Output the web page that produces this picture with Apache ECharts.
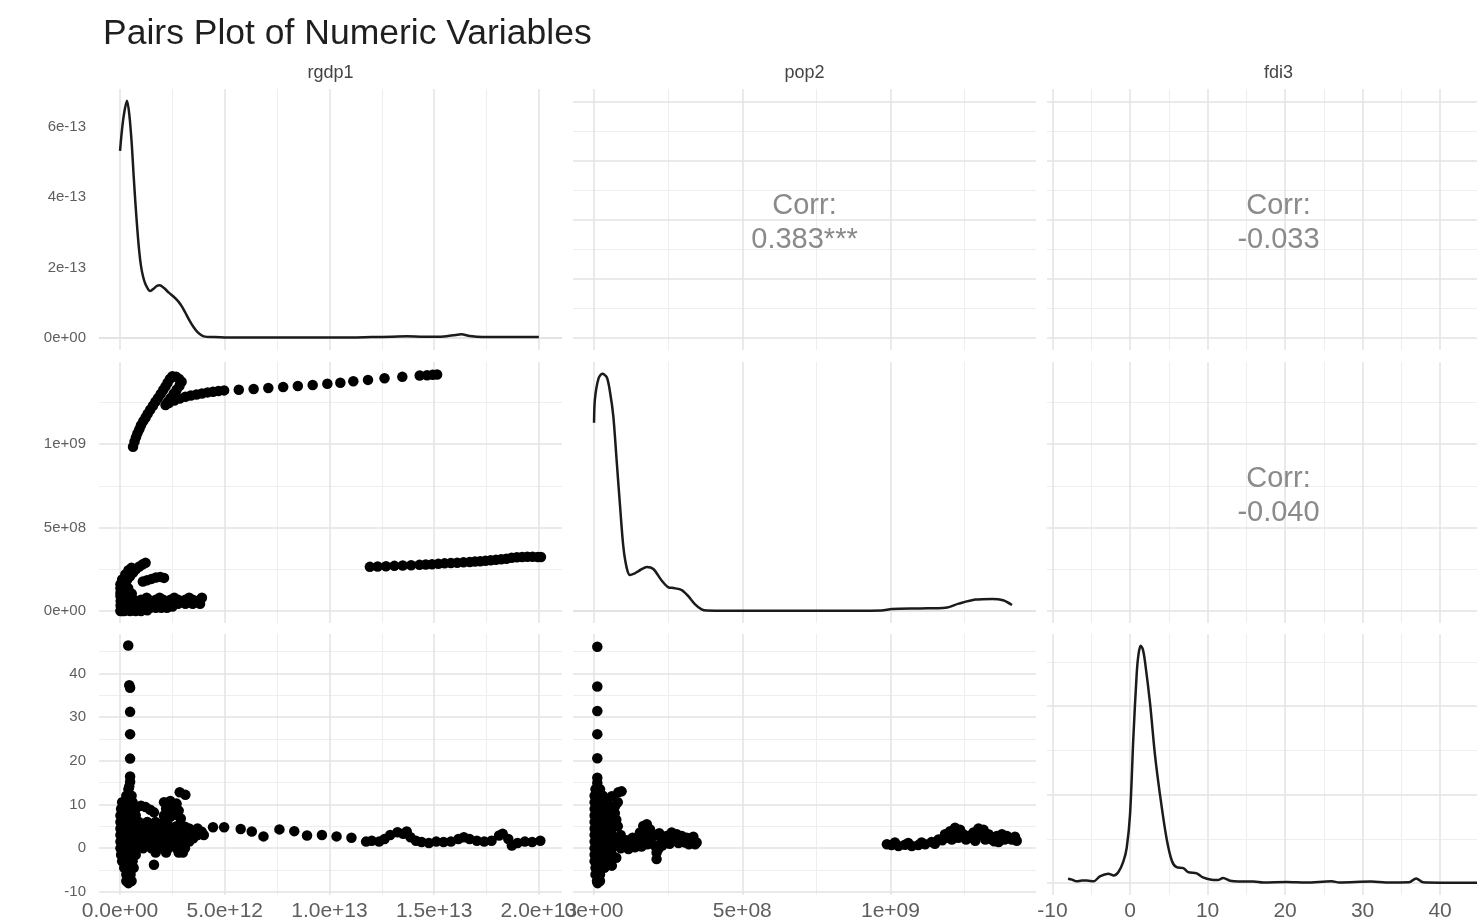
<!DOCTYPE html>
<html><head><meta charset="utf-8">
<script src="https://cdn.jsdelivr.net/npm/echarts@6/dist/echarts.min.js"></script>
<style>html,body{margin:0;padding:0;background:#fff}#c{width:1477px;height:922px}</style>
</head><body><div id="c"></div>
<script>
// ---------------- data ----------------
const titleText = 'Pairs Plot of Numeric Variables';
const variableNames = ['rgdp1', 'pop2', 'fdi3'];
const corrLabels = { '0-1': ['Corr:', '0.383***'], '0-2': ['Corr:', '-0.033'], '1-2': ['Corr:', '-0.040'] };

// tick values and labels
const rgdpTicks = [0, 5e12, 1e13, 1.5e13, 2e13];
const rgdpTickLabels = ['0.0e+00', '5.0e+12', '1.0e+13', '1.5e+13', '2.0e+13'];
const rgdpMinor = [2.5e12, 7.5e12, 1.25e13, 1.75e13];
const popTicks = [0, 5e8, 1e9];
const popTickLabels = ['0e+00', '5e+08', '1e+09'];
const popMinor = [2.5e8, 7.5e8, 1.25e9];
const fdiTicks = [-10, 0, 10, 20, 30, 40];
const fdiTickLabels = ['-10', '0', '10', '20', '30', '40'];
const fdiMinor = [-5, 5, 15, 25, 35, 45];
const rgdpDensTicks = [0, 2e-13, 4e-13, 6e-13];
const rgdpDensTickLabels = ['0e+00', '2e-13', '4e-13', '6e-13'];
const rgdpDensMinor = [1e-13, 3e-13, 5e-13, 7e-13];
const popDensTicks = [0, 1e-9, 2e-9, 3e-9];
const popDensMinor = [0.5e-9, 1.5e-9, 2.5e-9, 3.5e-9];
const fdiDensTicks = [0, 0.1, 0.2];
const fdiDensMinor = [0.05, 0.15, 0.25];

// axis ranges (data range plus 5% expansion)
const rgdpRange = [-1.005e12, 2.1105e13];
const popRange = [-0.071e9, 1.491e9];
const fdiRange = [-10.715, 49.015];
const rgdpDensRange = [-0.3365e-13, 7.0665e-13];
const popDensRange = [-0.1745e-9, 3.6645e-9];
const fdiDensRange = [-0.0134, 0.2814];

// density curves [value, density]
const rgdpDensity = [[0,5.31e-13],[0.15e12,6.2e-13],[0.335e12,6.73e-13],[0.45e12,6.3e-13],[0.56e12,5.5e-13],[0.65e12,4.6e-13],[0.74e12,3.78e-13],[0.83e12,3.05e-13],[0.92e12,2.44e-13],[1.0e12,2.05e-13],[1.09e12,1.77e-13],[1.2e12,1.55e-13],[1.36e12,1.37e-13],[1.44e12,1.34e-13],[1.6e12,1.40e-13],[1.75e12,1.48e-13],[1.89e12,1.50e-13],[2.1e12,1.42e-13],[2.33e12,1.29e-13],[2.55e12,1.18e-13],[2.77e12,1.05e-13],[2.95e12,0.9e-13],[3.12e12,0.72e-13],[3.3e12,0.52e-13],[3.47e12,0.35e-13],[3.7e12,0.17e-13],[4.0e12,0.05e-13],[4.5e12,0.03e-13],[5e12,0.02e-13],[6e12,0.02e-13],[7e12,0.02e-13],[8e12,0.02e-13],[9e12,0.02e-13],[10e12,0.02e-13],[11e12,0.02e-13],[12e12,0.03e-13],[13e12,0.04e-13],[13.7e12,0.05e-13],[14.5e12,0.04e-13],[15.3e12,0.04e-13],[15.9e12,0.08e-13],[16.3e12,0.11e-13],[16.7e12,0.06e-13],[17.3e12,0.03e-13],[18e12,0.03e-13],[19e12,0.03e-13],[20e12,0.03e-13]];
const popDensity = [[0,2.77e-9],[0.03e8,3.12e-9],[0.15e8,3.42e-9],[0.28e8,3.49e-9],[0.43e8,3.44e-9],[0.54e8,3.22e-9],[0.65e8,2.87e-9],[0.76e8,2.23e-9],[0.88e8,1.53e-9],[0.99e8,0.94e-9],[1.1e8,0.64e-9],[1.21e8,0.53e-9],[1.35e8,0.55e-9],[1.5e8,0.59e-9],[1.78e8,0.65e-9],[2.0e8,0.62e-9],[2.28e8,0.45e-9],[2.51e8,0.35e-9],[2.68e8,0.34e-9],[2.96e8,0.31e-9],[3.18e8,0.22e-9],[3.41e8,0.10e-9],[3.63e8,0.025e-9],[3.8e8,0.008e-9],[4.5e8,0.005e-9],[5.5e8,0.005e-9],[6.5e8,0.005e-9],[7.5e8,0.005e-9],[8.5e8,0.006e-9],[9.7e8,0.01e-9],[10.05e8,0.03e-9],[11.0e8,0.04e-9],[11.86e8,0.05e-9],[12.3e8,0.11e-9],[12.87e8,0.17e-9],[13.43e8,0.18e-9],[13.8e8,0.16e-9],[14.1e8,0.09e-9]];
const fdiDensity = [[-8.0,0.005],[-7.5,0.004],[-6.9,0.002],[-6.2,0.003],[-5.6,0.003],[-4.7,0.002],[-3.9,0.0076],[-2.8,0.0106],[-2.1,0.0087],[-1.5,0.0125],[-0.86,0.0246],[-0.43,0.040],[0,0.078],[0.43,0.165],[0.86,0.237],[1.1,0.259],[1.37,0.268],[1.65,0.264],[1.93,0.25],[2.58,0.203],[3.2,0.146],[3.86,0.100],[4.7,0.051],[5.4,0.025],[6.0,0.018],[6.87,0.017],[7.5,0.0125],[8.6,0.011],[9.4,0.0064],[10.5,0.0038],[11.3,0.0035],[12.0,0.0057],[12.9,0.0027],[14,0.0019],[15.9,0.0019],[17.2,0.0008],[20.2,0.0012],[22.7,0.0006],[26.0,0.002],[27.0,0.0008],[31.1,0.0018],[33.0,0.0007],[36.0,0.0009],[36.9,0.0053],[37.8,0.0009],[40,0.0005],[43,0.0005],[46.3,0.0005]];

// scatter panels
const rgdpPopPoints = [
 [0.62e12,9.84e8],[0.69e12,10.14e8],[0.76e12,10.40e8],[0.83e12,10.64e8],[0.92e12,10.88e8],[1.00e12,11.12e8],[1.11e12,11.37e8],[1.22e12,11.59e8],[1.32e12,11.81e8],[1.44e12,12.05e8],[1.57e12,12.29e8],[1.69e12,12.53e8],[1.81e12,12.75e8],[1.94e12,12.99e8],[2.06e12,13.23e8],[2.17e12,13.45e8],[2.27e12,13.67e8],[2.38e12,13.90e8],[2.50e12,14.06e8],[2.68e12,14.02e8],[2.82e12,13.90e8],[2.94e12,13.73e8],[2.84e12,13.49e8],[2.70e12,13.25e8],[2.56e12,13.01e8],[2.41e12,12.75e8],[2.27e12,12.51e8],[2.17e12,12.33e8],
 [2.33e12,12.45e8],[2.59e12,12.61e8],[2.85e12,12.73e8],[3.12e12,12.83e8],[3.38e12,12.91e8],[3.65e12,12.97e8],[3.91e12,13.03e8],[4.18e12,13.09e8],[4.44e12,13.13e8],[4.70e12,13.17e8],[4.97e12,13.21e8],[5.67e12,13.25e8],[6.38e12,13.29e8],[7.08e12,13.35e8],[7.79e12,13.41e8],[8.49e12,13.47e8],[9.20e12,13.53e8],[9.90e12,13.61e8],[10.52e12,13.67e8],[11.14e12,13.76e8],[11.84e12,13.84e8],[12.63e12,13.94e8],[13.48e12,14.02e8],[14.31e12,14.10e8],[14.66e12,14.12e8],[14.93e12,14.14e8],[15.14e12,14.16e8],
 [11.93e12,2.65e8],[12.3e12,2.67e8],[12.7e12,2.69e8],[13.1e12,2.71e8],[13.5e12,2.73e8],[13.9e12,2.75e8],[14.3e12,2.77e8],[14.6e12,2.79e8],[14.9e12,2.81e8],[15.2e12,2.83e8],[15.5e12,2.86e8],[15.8e12,2.88e8],[16.1e12,2.9e8],[16.4e12,2.92e8],[16.7e12,2.94e8],[16.95e12,2.97e8],[17.2e12,2.99e8],[17.45e12,3.01e8],[17.7e12,3.04e8],[17.95e12,3.07e8],[18.2e12,3.1e8],[18.45e12,3.14e8],[18.7e12,3.2e8],[18.95e12,3.23e8],[19.2e12,3.24e8],[19.45e12,3.25e8],[19.7e12,3.25e8],[19.95e12,3.24e8],[20.1e12,3.24e8],
 [0.02e12,1.10e8],[0.09e12,1.37e8],[0.21e12,1.61e8],[0.33e12,1.85e8],[0.48e12,2.09e8],[0.62e12,2.31e8],[0.76e12,2.51e8],[0.92e12,2.67e8],[1.09e12,2.81e8],[1.22e12,2.89e8],
 [0.1e12,1.9e8],[0.25e12,2.2e8],[0.4e12,2.45e8],[0.55e12,2.6e8],
 [1.09e12,1.77e8],[1.29e12,1.85e8],[1.50e12,1.93e8],[1.71e12,2.01e8],[1.92e12,2.05e8],[2.10e12,1.99e8],
 [0.02e12,1.61e8],[0.02e12,1.37e8],[0.02e12,0.90e8],[0.03e12,0.60e8],[0.03e12,0.30e8],[0.04e12,0.05e8],[0.10e12,0.01e8],[0.16e12,1.45e8],[0.39e12,1.37e8],[0.30e12,0.9e8],[0.56e12,1.04e8],[0.04e12,0.40e8],[0.21e12,0.60e8],[0.39e12,0.80e8],[0.2e12,1.15e8],
 [0.02e12,0.01e8],[0.21e12,0.01e8],[0.48e12,0.01e8],[0.74e12,0.01e8],[1.0e12,0.01e8],[1.3e12,0.05e8],
 [0.12e12,0.2e8],[0.39e12,0.2e8],[0.65e12,0.2e8],[0.92e12,0.2e8],[1.18e12,0.2e8],[1.44e12,0.2e8],[1.71e12,0.2e8],[1.97e12,0.2e8],[2.24e12,0.2e8],[2.5e12,0.28e8],
 [0.30e12,0.44e8],[0.65e12,0.44e8],[1.0e12,0.44e8],[1.36e12,0.44e8],[1.71e12,0.44e8],[2.06e12,0.44e8],[2.41e12,0.44e8],[2.77e12,0.44e8],[3.12e12,0.44e8],[3.47e12,0.44e8],[3.82e12,0.44e8],
 [0.65e12,0.68e8],[1.0e12,0.68e8],[1.36e12,0.68e8],[1.71e12,0.68e8],[2.06e12,0.68e8],[2.41e12,0.68e8],[2.77e12,0.68e8],[3.12e12,0.68e8],[3.47e12,0.68e8],[3.82e12,0.68e8],
 [1.27e12,0.8e8],[1.89e12,0.8e8],[2.59e12,0.8e8],[3.3e12,0.8e8],[3.91e12,0.8e8]
];
const rgdpFdiPoints = [
 [0.39e12,46.4],[0.44e12,37.3],[0.48e12,36.7],[0.48e12,31.2],[0.48e12,26.1],[0.48e12,20.5],[0.48e12,16.4],[0.48e12,15.2],[0.44e12,14.1],
 [0.4e12,13.5],[0.3e12,12],[0.55e12,12],[0.1e12,10.5],[0.35e12,10.5],[0.6e12,10.5],
 [0.05e12,9],[0.3e12,9],[0.55e12,9],[0.75e12,9],
 [0.02e12,7.5],[0.25e12,7.5],[0.5e12,7.5],[0.75e12,7.5],
 [0.02e12,6],[0.25e12,6],[0.5e12,6],[0.75e12,6],
 [0.02e12,4.5],[0.25e12,4.5],[0.5e12,4.5],[0.75e12,4.5],
 [0.02e12,3],[0.25e12,3],[0.5e12,3],[0.75e12,3],
 [0.02e12,1.5],[0.25e12,1.5],[0.5e12,1.5],[0.75e12,1.5],
 [0.02e12,0],[0.25e12,0],[0.5e12,0],[0.75e12,0],
 [0.05e12,-1.5],[0.3e12,-1.5],[0.55e12,-1.5],[0.75e12,-1.5],
 [0.1e12,-3],[0.35e12,-3],[0.6e12,-3],
 [0.2e12,-4.5],[0.45e12,-4.5],[0.65e12,-4.5],
 [0.3e12,-6],[0.5e12,-6],[0.3e12,-7.5],[0.55e12,-7.5],[0.4e12,-8],
 [1.0e12,9.7],[1.22e12,9.4],[1.44e12,8.8],[1.62e12,8.2],
 [0.9e12,6],[1.3e12,6],[1.7e12,6],[2.1e12,6],
 [1.1e12,5.25],[1.5e12,5.25],[1.9e12,5.25],[2.3e12,5.25],[2.7e12,5.0],[3.1e12,4.9],
 [0.9e12,4.5],[1.3e12,4.5],[1.7e12,4.5],[2.1e12,4.5],[2.5e12,4.5],[2.9e12,4.5],[3.3e12,4.5],[3.7e12,4.5],
 [1.1e12,3.75],[1.5e12,3.75],[1.9e12,3.75],[2.3e12,3.75],[2.7e12,3.75],[3.1e12,3.75],[3.5e12,3.75],[3.9e12,3.75],
 [0.9e12,3],[1.3e12,3],[1.7e12,3],[2.1e12,3],[2.5e12,3],[2.9e12,3],[3.3e12,3],[3.7e12,3],[4.0e12,3],
 [1.1e12,2.25],[1.5e12,2.25],[1.9e12,2.25],[2.3e12,2.25],[2.7e12,2.25],[3.1e12,2.25],[3.5e12,2.25],
 [0.9e12,1.5],[1.3e12,1.5],[1.7e12,1.5],[2.1e12,1.5],[2.5e12,1.5],[2.9e12,1.5],[3.3e12,1.5],
 [1.1e12,0.75],[1.5e12,0.75],[1.9e12,0.75],[2.3e12,0.75],[2.7e12,0.75],[3.1e12,0.75],
 [1.1e12,0],[1.5e12,0],[1.9e12,0],[2.3e12,0],[2.7e12,0],[3.1e12,0],
 [1.7e12,-1],[2.2e12,-1],[2.8e12,-1],[3.0e12,-1],[1.62e12,-3.8],
 [2.1e12,10.5],[2.4e12,10.8],[2.7e12,10.2],[2.2e12,9.0],[2.5e12,9.2],[2.8e12,8.6],[2.1e12,7.5],[2.4e12,7.2],[2.7e12,7.6],[2.9e12,6.8],
 [2.85e12,12.8],[3.12e12,12.2],
 [4.44e12,4.8],[4.97e12,4.8],[5.76e12,4.4],[6.29e12,3.8],[6.85e12,2.7],[7.61e12,4.3],[8.32e12,3.9],[8.93e12,2.9],[9.64e12,3.0],[10.34e12,2.7],[11.05e12,2.4],
 [11.75e12,1.5],[12.02e12,1.7],[12.37e12,1.5],[12.63e12,2.1],[12.9e12,3.0],[13.25e12,3.65],[13.52e12,3.3],[13.69e12,3.8],[13.87e12,2.5],[14.13e12,1.7],[14.4e12,1.4],[14.75e12,1.2],[15.1e12,1.5],[15.45e12,1.4],[15.8e12,1.5],[16.16e12,2.1],[16.42e12,2.5],[16.69e12,2.1],[17.04e12,1.7],[17.39e12,1.5],[17.74e12,1.7],[18.1e12,2.9],[18.27e12,3.3],[18.54e12,2.1],[18.71e12,0.6],[18.98e12,1.2],[19.33e12,1.5],[19.68e12,1.4],[20.07e12,1.7]
];
const popFdiPoints = [
 [0.11e8,46.1],[0.11e8,37.0],[0.11e8,31.4],[0.11e8,26.1],[0.11e8,20.6],[0.11e8,16.1],[0.11e8,14.9],[0.11e8,13.8],
 [0.05e8,13.5],[0.2e8,13.5],[0.02e8,12],[0.15e8,12],[0.3e8,12],
 [0.02e8,10.5],[0.15e8,10.5],[0.3e8,10.5],[0.45e8,10.5],
 [0.02e8,9],[0.15e8,9],[0.3e8,9],[0.45e8,9],[0.6e8,9],
 [0.02e8,7.5],[0.15e8,7.5],[0.3e8,7.5],[0.45e8,7.5],[0.6e8,7.5],
 [0.02e8,6],[0.15e8,6],[0.3e8,6],[0.45e8,6],[0.6e8,6],
 [0.02e8,4.5],[0.15e8,4.5],[0.3e8,4.5],[0.45e8,4.5],[0.6e8,4.5],
 [0.02e8,3],[0.15e8,3],[0.3e8,3],[0.45e8,3],[0.6e8,3],
 [0.02e8,1.5],[0.15e8,1.5],[0.3e8,1.5],[0.45e8,1.5],[0.6e8,1.5],
 [0.02e8,0],[0.15e8,0],[0.3e8,0],[0.45e8,0],[0.6e8,0],
 [0.02e8,-1.5],[0.15e8,-1.5],[0.3e8,-1.5],[0.45e8,-1.5],[0.6e8,-1.5],
 [0.02e8,-3],[0.15e8,-3],[0.3e8,-3],[0.45e8,-3],
 [0.05e8,-4.5],[0.2e8,-4.5],[0.35e8,-4.5],[0.05e8,-6],[0.2e8,-6],[0.1e8,-7.5],[0.2e8,-7.5],[0.12e8,-8],
 [0.6e8,11.9],[0.82e8,12.8],[0.93e8,13.0],[0.71e8,9.6],[0.6e8,6.6],[0.48e8,2.8],[0.6e8,-4.0],[0.48e8,-3.3],[0.7e8,8],[0.8e8,5],[0.9e8,3],[0.7e8,1],[0.9e8,0],[0.55e8,-1.5],[0.8e8,10.5],[0.75e8,6.5],[0.85e8,1.8],[0.75e8,-2.2],
 [1.05e8,0.5],[1.21e8,1.1],[1.38e8,1.4],[1.55e8,3.6],[1.66e8,5.1],[1.78e8,5.5],[1.89e8,4.3],[2.0e8,2.8],[2.11e8,-1.0],[2.11e8,-2.5],[2.17e8,-0.2],[2.28e8,2.0],[2.45e8,2.8],[2.62e8,3.6],[2.79e8,3.2],[2.96e8,2.8],[3.13e8,2.4],[3.30e8,1.7],[3.41e8,0.9],[3.46e8,1.3],[1.16e8,-0.2],[1.38e8,0.2],[1.61e8,1.7],[1.83e8,2.0],[2.4e8,1.3],[2.73e8,1.7],[3.07e8,1.3],
 [1.1e8,1.8],[1.3e8,2.4],[1.5e8,2.6],[1.7e8,3.2],[1.9e8,1.2],[2.05e8,0.6],[2.3e8,0.6],[2.55e8,1.0],[2.85e8,1.2],[3.2e8,0.9],[2.2e8,3.4],[2.9e8,2.0],[1.6e8,0.4],[1.8e8,0.9],[2.5e8,2.2],[3.35e8,2.6],
 [9.88e8,0.9],[10.04e8,0.7],[10.27e8,0.5],[10.49e8,0.8],[10.72e8,0.5],[10.94e8,0.7],[11.17e8,0.9],[11.39e8,1.4],[11.62e8,2.0],[11.84e8,3.2],[12.01e8,3.9],[12.18e8,4.7],[12.35e8,4.2],[12.46e8,3.2],[12.63e8,2.8],[12.80e8,3.6],[12.97e8,4.5],[13.14e8,4.2],[13.31e8,3.2],[13.42e8,2.0],[13.59e8,2.8],[13.76e8,3.2],[13.93e8,2.8],[14.09e8,2.0],[14.26e8,1.7],[12.07e8,2.0],[12.29e8,2.4],[12.86e8,1.7],[13.2e8,2.0],[13.65e8,1.4],
 [10.15e8,1.3],[10.6e8,1.2],[11.05e8,1.3],[11.5e8,1.0],[11.75e8,1.8],[11.95e8,2.4],[12.2e8,3.2],[12.55e8,2.0],[12.75e8,2.4],[13.05e8,3.0],[13.5e8,1.6],[13.85e8,2.0],[14.2e8,2.6]
];

// ---------------- layout ----------------
const panelLeft = [99, 573, 1047], panelTop = [89, 362, 634], panelW = 463, panelH = 261;
const axisDefs = {
  rgdp: { range: rgdpRange, major: rgdpTicks, minor: rgdpMinor, labels: rgdpTickLabels },
  pop: { range: popRange, major: popTicks, minor: popMinor, labels: popTickLabels },
  fdi: { range: fdiRange, major: fdiTicks, minor: fdiMinor, labels: fdiTickLabels },
  rgdpDens: { range: rgdpDensRange, major: rgdpDensTicks, minor: rgdpDensMinor, labels: rgdpDensTickLabels },
  popDens: { range: popDensRange, major: popDensTicks, minor: popDensMinor, labels: null },
  fdiDens: { range: fdiDensRange, major: fdiDensTicks, minor: fdiDensMinor, labels: null }
};
const varKeys = ['rgdp', 'pop', 'fdi'];
const densKeys = ['rgdpDens', 'popDens', 'fdiDens'];
const densData = [rgdpDensity, popDensity, fdiDensity];
const scatterData = { '1-0': rgdpPopPoints, '2-0': rgdpFdiPoints, '2-1': popFdiPoints };

const FONT = 'Liberation Sans, Arial, Helvetica, sans-serif';
const labelColor = '#5e5e5e';
const majorLine = { color: '#e3e3e3', width: 1.5, type: 'solid' };
const minorLine = { color: '#eeeeee', width: 1.1, type: 'solid' };

function labelFor(def, v) {
  for (let i = 0; i < def.major.length; i++) {
    const t = def.major[i];
    if (Math.abs(t - v) <= Math.abs(t) * 1e-9 + 1e-30) return def.labels[i];
  }
  return '';
}

const option = {
  animation: false, backgroundColor: '#ffffff',
  title: { text: titleText, left: 98, top: 11, textStyle: { fontFamily: FONT, fontSize: 35.5, fontWeight: 'normal', color: '#1f1f1f' } },
  grid: [], xAxis: [], yAxis: [], series: [], graphic: []
};

for (let r = 0; r < 3; r++) {
  for (let c = 0; c < 3; c++) {
    const gi = r * 3 + c;
    const xDef = axisDefs[varKeys[c]];
    const yDef = axisDefs[r === c ? densKeys[r] : varKeys[r]];
    option.grid.push({ left: panelLeft[c], top: panelTop[r], width: panelW, height: panelH, containLabel: false, outerBoundsMode: 'none' });
    const showX = r === 2, showY = c === 0;
    option.xAxis.push({
      type: 'value', gridIndex: gi, min: xDef.range[0], max: xDef.range[1], position: 'bottom',
      axisLine: { show: false }, axisTick: { show: false }, splitLine: { show: false },
      axisLabel: showX ? { show: true, customValues: xDef.major, formatter: v => labelFor(xDef, v), margin: 6, fontSize: 21, fontFamily: FONT, color: labelColor } : { show: false }
    });
    option.yAxis.push({
      type: 'value', gridIndex: gi, min: yDef.range[0], max: yDef.range[1], position: 'left',
      axisLine: { show: false }, axisTick: { show: false }, splitLine: { show: false },
      axisLabel: showY ? { show: true, customValues: yDef.major, formatter: v => labelFor(yDef, v), margin: 13, fontSize: 15, fontFamily: FONT, color: labelColor } : { show: false }
    });
    const ml = [];
    xDef.minor.forEach(v => ml.push({ xAxis: v, lineStyle: minorLine }));
    yDef.minor.forEach(v => ml.push({ yAxis: v, lineStyle: minorLine }));
    xDef.major.forEach(v => ml.push({ xAxis: v, lineStyle: majorLine }));
    yDef.major.forEach(v => ml.push({ yAxis: v, lineStyle: majorLine }));
    option.series.push({
      type: 'scatter', xAxisIndex: gi, yAxisIndex: gi, data: [], silent: true, z: 0,
      markLine: { silent: true, z: 0, symbol: ['none', 'none'], label: { show: false }, emphasis: { disabled: true }, animation: false, data: ml }
    });
    const key = r + '-' + c;
    if (r === c) {
      option.series.push({
        type: 'line', xAxisIndex: gi, yAxisIndex: gi, data: densData[r], showSymbol: false, smooth: 0.3, z: 3,
        lineStyle: { color: '#1b1b1b', width: 2.5 }, silent: true
      });
    } else if (scatterData[key]) {
      option.series.push({
        type: 'scatter', xAxisIndex: gi, yAxisIndex: gi, data: scatterData[key], symbol: 'circle', symbolSize: 10.5, z: 3,
        itemStyle: { color: '#000000', opacity: 1 }, silent: true
      });
    }
    if (corrLabels[key]) {
      const cx = panelLeft[c] + panelW / 2, cy = panelTop[r] + panelH / 2;
      option.graphic.push({ type: 'text', z: 100, x: cx, y: cy - 14, style: { text: corrLabels[key][0], x: 0, y: 0, textAlign: 'center', textVerticalAlign: 'middle', fontSize: 29, fontFamily: FONT, fill: '#8a8a8a' } });
      option.graphic.push({ type: 'text', z: 100, x: cx, y: cy + 20, style: { text: corrLabels[key][1], x: 0, y: 0, textAlign: 'center', textVerticalAlign: 'middle', fontSize: 29, fontFamily: FONT, fill: '#8a8a8a' } });
    }
  }
}
for (let c = 0; c < 3; c++) {
  option.graphic.push({ type: 'text', z: 100, x: panelLeft[c] + panelW / 2, y: 73, style: { text: variableNames[c], textAlign: 'center', textVerticalAlign: 'middle', fontSize: 18, fontFamily: FONT, fill: '#444444' } });
}

const chart = echarts.init(document.getElementById('c'), null, { renderer: 'canvas' });
chart.setOption(option);
</script>
</body></html>
